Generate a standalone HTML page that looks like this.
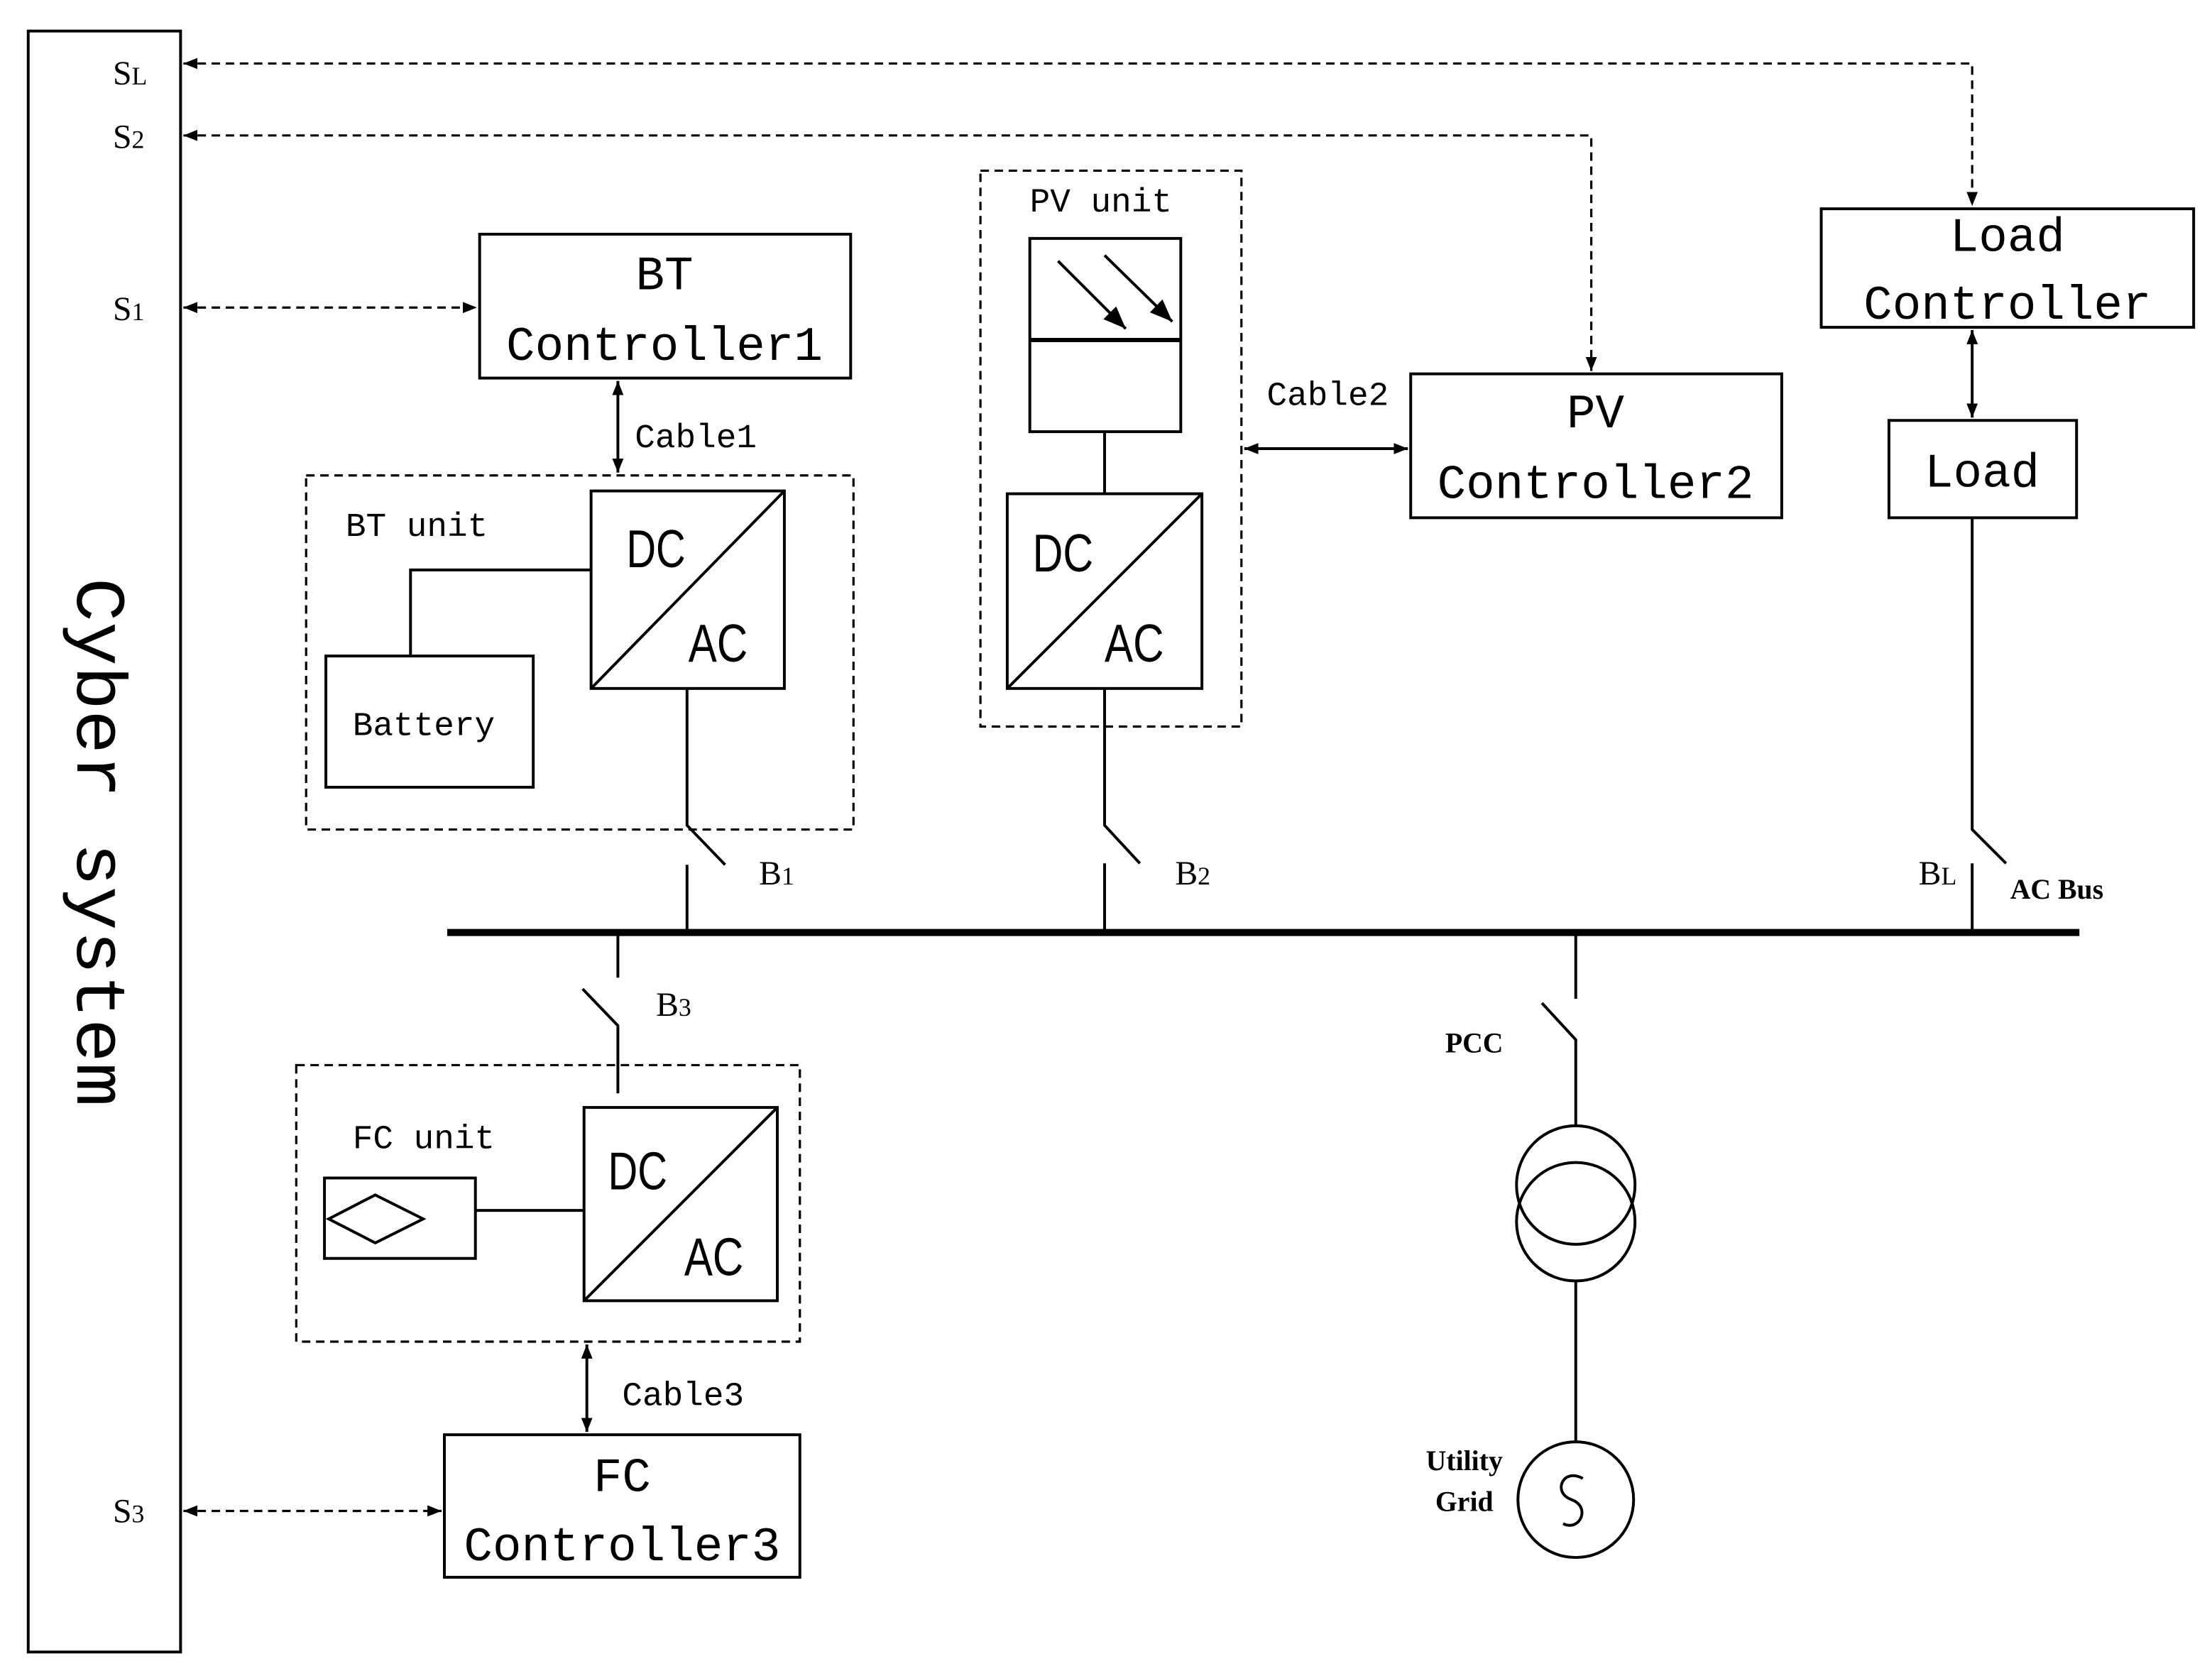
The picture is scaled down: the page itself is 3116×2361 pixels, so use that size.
<!DOCTYPE html>
<html><head><meta charset="utf-8"><style>html,body{margin:0;padding:0;background:#fff}svg{display:block}</style></head><body>
<svg xmlns="http://www.w3.org/2000/svg" width="3116" height="2361" viewBox="0 0 1568 1188" preserveAspectRatio="none">
<defs>
<marker id="a" viewBox="0 0 10 10" refX="10" refY="5" markerWidth="10" markerHeight="10" markerUnits="userSpaceOnUse" orient="auto-start-reverse"><path d="M0,1 L10,5 L0,9 z" fill="#000"/></marker>
<marker id="p" viewBox="0 0 10 10" refX="10" refY="5" markerWidth="16" markerHeight="16" markerUnits="userSpaceOnUse" orient="auto"><path d="M0,1 L10,5 L0,9 z" fill="#000"/></marker>
</defs>
<g fill="none" stroke="#000" stroke-width="2">
<rect x="20" y="22" width="108" height="1149"/>
<g stroke-dasharray="6,4" stroke-width="1.6">
<polyline points="130,45 1398,45 1398,146" marker-start="url(#a)" marker-end="url(#a)"/>
<polyline points="130,96 1128,96 1128,263" marker-start="url(#a)" marker-end="url(#a)"/>
<line x1="130" y1="218" x2="338" y2="218" marker-start="url(#a)" marker-end="url(#a)"/>
<line x1="130" y1="1071" x2="313" y2="1071" marker-start="url(#a)" marker-end="url(#a)"/>
<rect x="217" y="337" width="388" height="251"/>
<rect x="695" y="121" width="185" height="394"/>
<rect x="210" y="755" width="357" height="196"/>
</g>
<rect x="340" y="166" width="263" height="102"/>
<line x1="438" y1="270" x2="438" y2="335" marker-start="url(#a)" marker-end="url(#a)"/>
<rect x="419" y="348" width="137" height="140"/><line x1="419" y1="488" x2="556" y2="348"/>
<rect x="231" y="465" width="147" height="93"/>
<polyline points="291,465 291,404 419,404"/>
<polyline points="487,488 487,585 514,613"/><line x1="487" y1="613" x2="487" y2="661"/>
<line x1="317" y1="661" x2="1474" y2="661" stroke-width="5"/>
<rect x="730" y="169" width="107" height="137"/><line x1="730" y1="241" x2="837" y2="241" stroke-width="3"/>
<line x1="750" y1="185" x2="798" y2="233" marker-end="url(#p)"/>
<line x1="783" y1="181" x2="831" y2="228" marker-end="url(#p)"/>
<line x1="783" y1="306" x2="783" y2="350"/>
<rect x="714" y="350" width="138" height="138"/><line x1="714" y1="488" x2="852" y2="350"/>
<polyline points="783,488 783,585 808,612"/><line x1="783" y1="612" x2="783" y2="661"/>
<line x1="882" y1="318" x2="998" y2="318" marker-start="url(#a)" marker-end="url(#a)"/>
<rect x="1000" y="265" width="263" height="102"/>
<rect x="1291" y="148" width="264" height="84"/>
<line x1="1398" y1="234" x2="1398" y2="296" marker-start="url(#a)" marker-end="url(#a)"/>
<rect x="1339" y="298" width="133" height="69"/>
<polyline points="1398,367 1398,588 1422,612"/><line x1="1398" y1="612" x2="1398" y2="661"/>
<line x1="438" y1="661" x2="438" y2="693"/><polyline points="413,701 438,727 438,775"/>
<rect x="414" y="785" width="137" height="137"/><line x1="414" y1="922" x2="551" y2="785"/>
<rect x="230" y="835" width="107" height="57"/><polygon points="233,864 266,847 300,864 266,881"/>
<line x1="337" y1="858" x2="414" y2="858"/>
<line x1="416" y1="953" x2="416" y2="1015" marker-start="url(#a)" marker-end="url(#a)"/>
<rect x="315" y="1017" width="252" height="101"/>
<line x1="1117" y1="661" x2="1117" y2="708"/><polyline points="1093,711 1117,737 1117,798"/>
<circle cx="1117" cy="840" r="42"/><circle cx="1117" cy="866" r="42"/>
<line x1="1117" y1="908" x2="1117" y2="1022"/>
<circle cx="1117" cy="1063" r="41"/>
<path d="M1122,1048 C1108,1040 1100,1058 1114,1063 C1128,1068 1120,1086 1108,1080"/>
</g>
<g font-family="Liberation Mono, monospace" fill="#000" text-anchor="middle">
<text x="68" y="597" font-size="50" transform="rotate(90 68 597)" dominant-baseline="middle" textLength="375" lengthAdjust="spacingAndGlyphs">Cyber system</text>
<g font-family="Liberation Serif, serif" font-size="24" text-anchor="start">
<text x="80" y="60">S<tspan font-size="18">L</tspan></text>
<text x="80" y="105">S<tspan font-size="18">2</tspan></text>
<text x="80" y="227">S<tspan font-size="18">1</tspan></text>
<text x="80" y="1079">S<tspan font-size="18">3</tspan></text>
<text x="538" y="627">B<tspan font-size="18">1</tspan></text>
<text x="833" y="627">B<tspan font-size="18">2</tspan></text>
<text x="1360" y="627">B<tspan font-size="18">L</tspan></text>
<text x="465" y="720">B<tspan font-size="18">3</tspan></text>
</g>
<g font-size="34"><text x="471" y="205">BT</text><text x="471" y="255">Controller1</text>
<text x="1131" y="303">PV</text><text x="1131" y="353">Controller2</text>
<text x="1423" y="178">Load</text><text x="1423" y="226">Controller</text>
<text x="1405" y="345">Load</text>
<text x="441" y="1057">FC</text><text x="441" y="1106">Controller3</text></g>
<g font-size="24" text-anchor="start"><text x="450" y="317">Cable1</text><text x="898" y="287">Cable2</text><text x="441" y="996">Cable3</text>
<text x="245" y="380">BT unit</text><text x="730" y="150">PV unit</text><text x="250" y="814">FC unit</text>
<text x="250" y="521">Battery</text></g>
<g font-size="38" font-family="Liberation Sans, sans-serif" text-anchor="start" lengthAdjust="spacingAndGlyphs">
<text x="444" y="402" textLength="42" lengthAdjust="spacingAndGlyphs">DC</text><text x="488" y="469" textLength="42" lengthAdjust="spacingAndGlyphs">AC</text>
<text x="732" y="405" textLength="43" lengthAdjust="spacingAndGlyphs">DC</text><text x="783" y="469" textLength="42" lengthAdjust="spacingAndGlyphs">AC</text>
<text x="431" y="843" textLength="42" lengthAdjust="spacingAndGlyphs">DC</text><text x="485" y="904" textLength="42" lengthAdjust="spacingAndGlyphs">AC</text></g>
<g font-family="Liberation Serif, serif" font-weight="bold" font-size="20">
<text x="1458" y="637">AC Bus</text><text x="1045" y="746">PCC</text>
<text x="1038" y="1042">Utility</text><text x="1038" y="1071">Grid</text></g>
</g>
</svg>
</body></html>
